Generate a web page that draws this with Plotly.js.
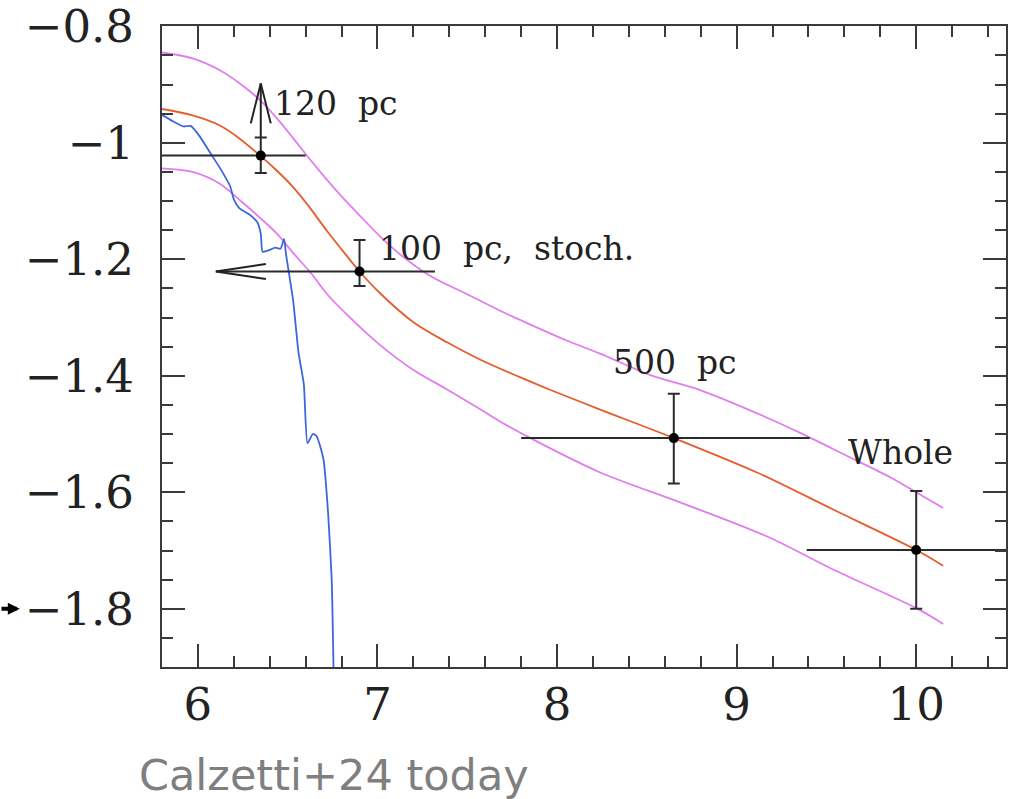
<!DOCTYPE html>
<html>
<head>
<meta charset="utf-8">
<script src="https://cdn.plot.ly/plotly-3.0.1.min.js"></script>
<style>html,body{margin:0;padding:0;background:#fff}</style>
</head>
<body>
<div id="chart" style="width:1015px;height:799px"></div>
<script>
// ---- data ----
const orangeX = [5.80,5.97,6.12,6.22,6.35,6.44,6.53,6.62,6.72,6.80,6.90,7.01,7.20,7.39,7.57,7.79,7.96,8.24,8.65,9.12,9.54,10.00,10.15];
const orangeY = [-0.942,-0.953,-0.970,-0.990,-1.023,-1.048,-1.076,-1.110,-1.152,-1.183,-1.221,-1.257,-1.308,-1.343,-1.372,-1.402,-1.424,-1.458,-1.507,-1.567,-1.630,-1.699,-1.726];

const upperX = [5.80,5.97,6.12,6.25,6.35,6.44,6.53,6.62,6.72,6.80,6.88,7.07,7.29,7.50,7.68,7.80,8.05,8.24,8.52,8.80,9.17,9.36,9.63,9.86,10.00,10.15];
const upperY = [-0.845,-0.855,-0.875,-0.902,-0.928,-0.958,-0.992,-1.027,-1.064,-1.092,-1.118,-1.177,-1.228,-1.260,-1.288,-1.305,-1.339,-1.362,-1.399,-1.425,-1.472,-1.499,-1.540,-1.575,-1.600,-1.627];

const lowerX = [5.80,5.97,6.12,6.25,6.35,6.44,6.53,6.63,6.72,6.83,7.01,7.20,7.39,7.57,7.68,7.87,8.24,8.70,9.17,9.54,10.00,10.15];
const lowerY = [-1.044,-1.050,-1.070,-1.103,-1.130,-1.156,-1.189,-1.224,-1.260,-1.295,-1.346,-1.390,-1.424,-1.457,-1.478,-1.510,-1.566,-1.619,-1.676,-1.733,-1.799,-1.826];

const blueX = [5.80,5.86,5.92,5.96,6.01,6.07,6.13,6.18,6.20,6.23,6.29,6.33,6.35,6.36,6.40,6.43,6.46,6.48,6.49,6.53,6.56,6.59,6.61,6.64,6.66,6.68,6.70,6.725,6.745,6.755];
const blueY = [-0.952,-0.963,-0.972,-0.971,-0.989,-1.018,-1.047,-1.075,-1.097,-1.112,-1.124,-1.136,-1.156,-1.187,-1.184,-1.180,-1.182,-1.165,-1.190,-1.270,-1.360,-1.415,-1.516,-1.500,-1.503,-1.520,-1.545,-1.636,-1.750,-1.900];

// measured points with error bars
const ptX      = [6.35, 6.90, 8.65, 10.00];
const ptY      = [-1.022, -1.221, -1.507, -1.699];
const ptXminus = [0.55, 0.80, 0.85, 0.61];
const ptXplus  = [0.25, 0.42, 0.757, 0.50];
const ptYplus  = [0.031, 0.054, 0.076, 0.101];
const ptYminus = [0.030, 0.025, 0.078, 0.101];

// limits: upward arrow on the 120 pc point, leftward arrow on the 100 pc point
const upLimX = [6.35];
const upLimFrom = [-0.991];
const upLimTo = [-0.898];
const leftLimY = [-1.221];
const leftLimTo = [6.10];

// text labels
const labelText = ['120\u00a0\u00a0pc', '100\u00a0\u00a0pc,\u00a0\u00a0stoch.', '500\u00a0\u00a0pc', 'Whole'];
const labelX = [6.41, 7.00, 8.30, 9.61];
const labelY = [-0.932, -1.181, -1.378, -1.531];

const xTickVals = [6, 7, 8, 9, 10];
const yTickVals = [-0.8, -1, -1.2, -1.4, -1.6, -1.8];

// ---- styling ----
const axisCol = '#3a3a3a';
const serif = 'DejaVu Serif';
const smooth = {shape: 'spline', smoothing: 0.9};

const traces = [
  {x: upperX, y: upperY, mode: 'lines', line: Object.assign({color: '#e27cf0', width: 1.8}, smooth), hoverinfo: 'skip'},
  {x: lowerX, y: lowerY, mode: 'lines', line: Object.assign({color: '#e27cf0', width: 1.8}, smooth), hoverinfo: 'skip'},
  {x: orangeX, y: orangeY, mode: 'lines', line: Object.assign({color: '#e65c2c', width: 1.8}, smooth), hoverinfo: 'skip'},
  {x: blueX, y: blueY, mode: 'lines', line: {color: '#3d66dc', width: 1.8, shape: 'spline', smoothing: 0.5}, hoverinfo: 'skip'},
  {x: [upLimX[0], upLimX[0]], y: [upLimFrom[0], upLimTo[0]], mode: 'lines',
   line: {color: '#222', width: 2}, hoverinfo: 'skip'},
  {x: ptX, y: ptY, mode: 'markers', marker: {color: '#000', size: 10},
   error_x: {type: 'data', symmetric: false, array: ptXplus, arrayminus: ptXminus, color: '#2b2b2b', thickness: 2, width: 0},
   error_y: {type: 'data', symmetric: false, array: ptYplus, arrayminus: ptYminus, color: '#2b2b2b', thickness: 2, width: 6},
   hoverinfo: 'skip'}
];

const annotations = labelText.map((t, i) => ({
  x: labelX[i], y: labelY[i], xref: 'x', yref: 'y', text: t, showarrow: false,
  xanchor: 'left', yanchor: 'middle', font: {family: serif, size: 33, color: '#222'}
}));
annotations.push({
  xref: 'paper', yref: 'y', x: -0.1685, y: -1.8, ax: -22, ay: 0, text: '',
  showarrow: true, arrowhead: 2, arrowsize: 0.6, arrowwidth: 4, arrowcolor: '#000'
});
annotations.push({
  xref: 'paper', yref: 'paper', x: 0.2035, y: -0.168, xanchor: 'center', yanchor: 'middle',
  text: 'Calzetti+24 today', showarrow: false,
  font: {family: 'DejaVu Sans', size: 43, color: '#7f7f7f'}
});

const shapes = [
  {type: 'path', xref: 'x', yref: 'y', xsizemode: 'pixel', ysizemode: 'pixel',
   xanchor: upLimX[0], yanchor: upLimTo[0], path: 'M-10,-40L0,0L10,-40',
   line: {color: '#222', width: 2}},
  {type: 'path', xref: 'x', yref: 'y', xsizemode: 'pixel', ysizemode: 'pixel',
   xanchor: leftLimTo[0], yanchor: leftLimY[0], path: 'M50,7.5L0,0L50,-7.5',
   line: {color: '#222', width: 2}}
];

const commonAxis = {
  ticks: 'inside', ticklen: 23, tickwidth: 2, tickcolor: axisCol,
  showline: true, linewidth: 2, linecolor: axisCol, mirror: 'allticks',
  showgrid: false, zeroline: false,
  tickfont: {family: serif, size: 45, color: '#222'}
};

const layout = {
  width: 1015, height: 799,
  margin: {l: 162, r: 9, t: 26, b: 132},
  paper_bgcolor: '#fff', plot_bgcolor: '#fff',
  showlegend: false,
  xaxis: Object.assign({}, commonAxis, {
    range: [5.8, 10.5], tickmode: 'array', tickvals: xTickVals,
    ticklabelstandoff: -3,
    minor: {ticks: 'inside', ticklen: 11, tickwidth: 2, tickcolor: axisCol, dtick: 0.2, tick0: 6, showgrid: false}
  }),
  yaxis: Object.assign({}, commonAxis, {
    range: [-1.9, -0.7995], tickmode: 'array', tickvals: yTickVals,
    ticklabelstandoff: 17,
    minor: {ticks: 'inside', ticklen: 11, tickwidth: 2, tickcolor: axisCol, dtick: 0.05, tick0: -0.8, showgrid: false}
  }),
  annotations: annotations,
  shapes: shapes
};

Plotly.newPlot('chart', traces, layout, {displayModeBar: false, staticPlot: true});
</script>
</body>
</html>
